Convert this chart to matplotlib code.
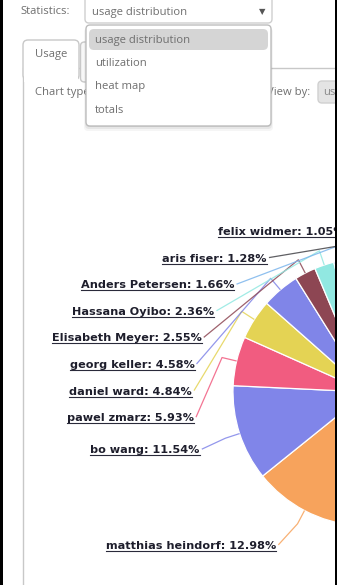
import numpy as np
import matplotlib
matplotlib.use("Agg")
import matplotlib.pyplot as plt
from matplotlib.patches import FancyBboxPatch, Rectangle

W, H = 337, 585

# slices visible on the left half, in drawing order (clockwise, after the hidden ones)
users = ['matthias heindorf', 'bo wang', 'pawel zmarz', 'daniel ward', 'georg keller',
         'Elisabeth Meyer', 'Hassana Oyibo', 'Anders Petersen', 'aris fiser', 'felix widmer']
shares = [12.98, 11.54, 5.93, 4.84, 4.58, 2.55, 2.36, 1.66, 1.28, 1.05]
# the first (largest) slices sit on the cropped right half
hidden_share = 100 - sum(shares)

palette = ['#7cb5ec', '#434348', '#90ed7d', '#f7a35c', '#8085e9',
           '#f15c80', '#e4d354', '#8085e8', '#8d4653', '#91e8e1']

stat_options = ['usage distribution', 'utilization', 'heat map', 'totals']

UI_FONT = ['Open Sans', 'DejaVu Sans']
UI_GREY = '#6f6f6f'
UI_SIZE = 8.1

fig = plt.figure(figsize=(W / 100, H / 100), dpi=100)
ax = fig.add_axes([0, 0, 1, 1])

# ---- pie ----
cx, cy, r = 367, 392, 134
colors = [palette[0]] + [palette[(3 + i) % len(palette)] for i in range(len(shares))]
wedges, _ = ax.pie([hidden_share] + shares, colors=colors, startangle=-90, counterclock=True,
                   center=(cx, cy), radius=r,
                   wedgeprops=dict(edgecolor='white', linewidth=0.9))
for w in wedges:
    w.set_zorder(2)

ax.set_xlim(0, W)
ax.set_ylim(H, 0)
ax.set_aspect('auto')
ax.axis('off')

# ---- data labels (highcharts-like layout on the left side) ----
lab_r, x_r, gap, step = 166.6, 158, 17, 26.6
mids = [np.deg2rad((w.theta1 + w.theta2) / 2) for w in wedges[1:]]
label_y = {}
prev = -1e9
for i in reversed(range(len(shares))):
    natural = cy + lab_r * np.sin(mids[i]) + 5.5
    y = max(natural, prev + step)
    label_y[i] = (y, y > natural + 0.5)
    prev = y

texts = []
for i, (name, val) in enumerate(zip(users, shares)):
    th = mids[i]
    y, moved = label_y[i]
    if moved:
        dy = y - cy
        xr = cx - np.sqrt(max(x_r ** 2 - dy ** 2, 0)) - gap
    else:
        xr = cx + x_r * np.cos(th) - gap
    t = ax.text(xr, y + 4, f'{name}: {val:.2f}%', ha='right', va='baseline',
                fontsize=8.1, fontweight='bold', color='#1e1e2c',
                family='DejaVu Sans', zorder=5, clip_on=True)
    texts.append(t)
    bend = (cx + (r + 15) * np.cos(th), cy + (r + 15) * np.sin(th))
    edge = (cx + r * np.cos(th), cy + r * np.sin(th))
    ax.plot([xr + 2, bend[0], edge[0]], [y, bend[1], edge[1]],
            color=colors[i + 1], lw=0.9, alpha=0.85, zorder=3, solid_capstyle='butt')

# ---- page frame / tabs ----
ax.plot([23, 23], [68, H], color='#c8c8c8', lw=1, zorder=6)
ax.plot([79, W], [68, 68], color='#c8c8c8', lw=1, zorder=6)
ax.add_patch(FancyBboxPatch((80.5, 42), 130, 40, boxstyle='round,pad=0,rounding_size=4',
                            fc='#f7f7f7', ec='#c8c8c8', lw=1, zorder=6))
ax.add_patch(FancyBboxPatch((23, 40), 56, 40, boxstyle='round,pad=0,rounding_size=5',
                            fc='white', ec='#c8c8c8', lw=1, zorder=6))
ax.add_patch(Rectangle((23.6, 68), 54.8, 14, fc='white', ec='none', zorder=6.1))
ax.add_patch(Rectangle((24, 69), 310, 30, fc='white', ec='none', zorder=5.5))
ax.text(35, 55, 'Usage', fontsize=UI_SIZE, color=UI_GREY, family=UI_FONT, va='center', zorder=7)
ax.text(35, 92, 'Chart type:', fontsize=UI_SIZE, color=UI_GREY, family=UI_FONT, va='center',
        zorder=7)
ax.text(310, 92, 'View by:', fontsize=UI_SIZE, color=UI_GREY, family=UI_FONT, va='center',
        ha='right', zorder=7)
ax.add_patch(FancyBboxPatch((318, 81), 40, 22, boxstyle='round,pad=0,rounding_size=4',
                            fc='#e4e4e4', ec='#d0d0d0', lw=1, zorder=7))
ax.text(323, 92, 'usage', fontsize=UI_SIZE, color='#8a8a8a', family=UI_FONT, va='center',
        zorder=8, clip_on=True)

# statistics select
ax.text(20, 12, 'Statistics:', fontsize=UI_SIZE, color=UI_GREY, family=UI_FONT, va='center',
        zorder=7)
ax.add_patch(FancyBboxPatch((85, -6), 187, 29, boxstyle='round,pad=0,rounding_size=4',
                            fc='white', ec='#cfcfcf', lw=1, zorder=7))
ax.text(92, 12, stat_options[0], fontsize=UI_SIZE, color=UI_GREY, family=UI_FONT, va='center',
        zorder=8)
ax.text(262, 12, '\u25bc', fontsize=6, color='#555555', family=['DejaVu Sans'],
        ha='center', va='center', zorder=8)

# open dropdown list
for k, a in enumerate([0.08, 0.06, 0.04]):
    ax.add_patch(FancyBboxPatch((86 - k, 26 + k), 185 + 2 * k, 101 + k,
                                boxstyle='round,pad=0,rounding_size=4',
                                fc='black', ec='none', alpha=a, zorder=8))
ax.add_patch(FancyBboxPatch((86, 25), 185, 101, boxstyle='round,pad=0,rounding_size=4',
                            fc='white', ec='#bdbdbd', lw=1, zorder=9))
ax.add_patch(FancyBboxPatch((89, 29), 179, 21, boxstyle='round,pad=0,rounding_size=5',
                            fc='#d5d5d5', ec='none', zorder=10))
for k, opt in enumerate(stat_options):
    ax.text(95, 40 + k * 23.5, opt, fontsize=UI_SIZE, color=UI_GREY, family=UI_FONT,
            va='center', zorder=11)

# outer black border of the screenshot
ax.add_patch(Rectangle((0, 0), 2.5, H, fc='black', ec='none', zorder=20))
ax.add_patch(Rectangle((334.5, 0), 3, H, fc='black', ec='none', zorder=20))

# underline the labels (they are links)
fig.canvas.draw()
renderer = fig.canvas.get_renderer()
inv = ax.transData.inverted()
for t in texts:
    bb = t.get_window_extent(renderer)
    x0, _ = inv.transform((bb.x0, bb.y0))
    x1, _ = inv.transform((bb.x1, bb.y0))
    yb = t.get_position()[1] + 2
    ax.plot([x0, x1], [yb, yb], color='#2a2a3a', lw=0.8, zorder=5, clip_on=True)

fig.savefig('out.png', dpi=100)
